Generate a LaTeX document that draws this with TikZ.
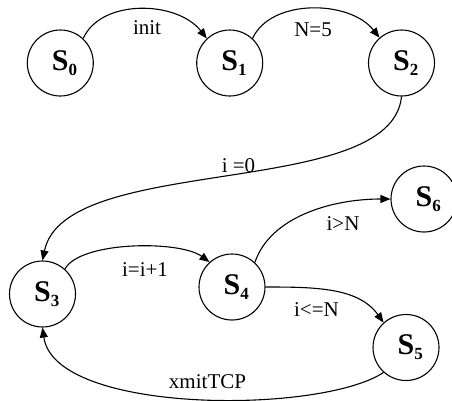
\documentclass[tikz,border=0pt]{standalone}
\usepackage{fontspec}
\setmainfont{Liberation Serif}
\usetikzlibrary{arrows.meta}
\newcommand\statelbl[1]{S\rlap{\raisebox{-5pt}{\fontsize{17}{17}\selectfont #1}}}
\begin{document}
\begin{tikzpicture}[x=1pt,y=-1pt,
  state/.style={circle,draw,line width=1.1pt,minimum size=66pt,inner sep=0pt,
    font=\fontsize{30}{30}\selectfont\bfseries},
  trans/.style={line width=1.1pt,-{Triangle[length=10pt,width=8pt]}},
  lab/.style={font=\fontsize{21}{21}\selectfont,anchor=base,inner sep=0pt}]
\useasboundingbox (0,0) rectangle (452,400);
\node[state] (S0) at (60.3,63) {\statelbl{0}};
\node[state] (S1) at (229.7,63) {\statelbl{1}};
\node[state] (S2) at (401.5,63) {\statelbl{2}};
\node[state] (S3) at (42.5,294) {\statelbl{3}};
\node[state] (S4) at (232,287) {\statelbl{4}};
\node[state] (S5) at (406,347.5) {\statelbl{5}};
\node[state] (S6) at (424,199) {\statelbl{6}};
\draw[trans] (S0.47) .. controls +(18,-40) and +(-30,-38) .. (S1.133);
\draw[trans] (S1.47) .. controls +(18,-40) and +(-30,-38) .. (S2.131);
\draw[trans] (S2.270) .. controls +(-10,104) and +(22,-108) .. (S3.north);
\draw[trans] (S3.48) .. controls +(15,-28) and +(-30,-22) .. (S4.132);
\draw[trans] (S4.47) .. controls +(15,-45) and +(-60,0) .. (S6.west);
\draw[trans] (S4.east) .. controls +(50,0) and +(-25,-35) .. (S5.132);
\draw[trans] (S5.228) .. controls +(-63,42) and +(12,87) .. (S3.south);
\node[lab] (l01) at (147,34) {init};
\node[lab] (l12) at (313,36) {N=5};
\node[lab] (l23) at (238.5,172) {i =0};
\node[lab] (l34) at (145,276) {i=i+1};
\node[lab] (l46) at (343,230) {i>N};
\node[lab] (l45) at (316.5,316) {i<=N};
\node[lab] (l53) at (207.5,388) {xmitTCP};
\end{tikzpicture}
\end{document}
